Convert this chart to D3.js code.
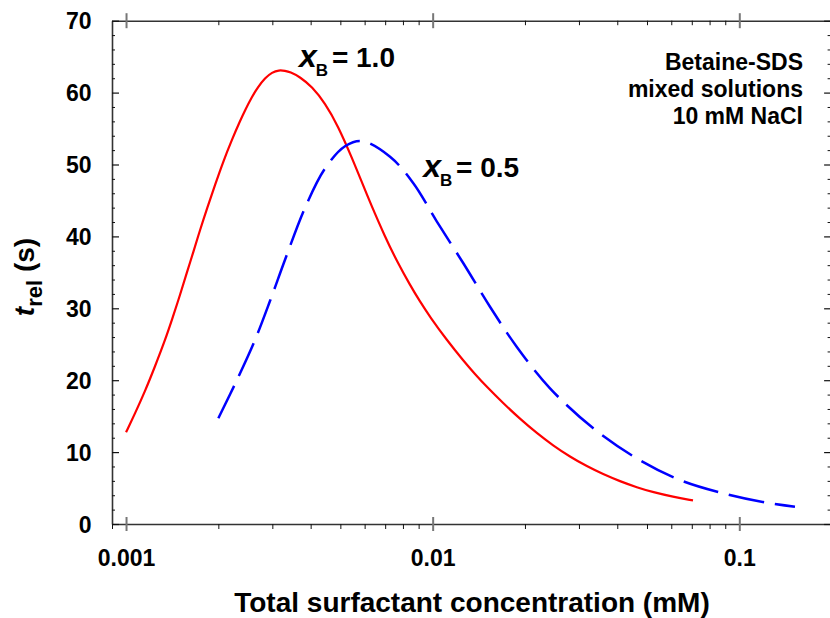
<!DOCTYPE html>
<html>
<head>
<meta charset="utf-8">
<script src="https://cdn.jsdelivr.net/npm/d3@7"></script>
<style>
  body { margin: 0; background: #fff; }
  svg { font-family: "Liberation Sans", Arial, sans-serif; font-weight: bold; }
</style>
</head>
<body>
<div id="chart"></div>
<script>
// x_B = 1.0 (solid red)
const concB10 = [0.001, 0.00107, 0.001153, 0.001243, 0.00134, 0.001413, 0.0015, 0.001581, 0.001654,
  0.001743, 0.001837, 0.001952, 0.002072, 0.002216, 0.002354, 0.002445, 0.002576, 0.002694, 0.00284,
  0.002993, 0.003155, 0.0033, 0.003426, 0.003693, 0.004043, 0.004456, 0.004913, 0.005458, 0.00584,
  0.006248, 0.006993, 0.007652, 0.008437, 0.009095, 0.009803, 0.01114, 0.01256, 0.01374, 0.01504,
  0.01696, 0.01927, 0.02189, 0.02469, 0.02805, 0.03187, 0.03594, 0.04083, 0.04639, 0.05231,
  0.06077, 0.07063];
const trelB10 = [12.75, 15.38, 18.44, 21.91, 25.54, 28.44, 31.85, 35.05, 37.69,
  40.89, 43.88, 47.19, 50.35, 53.48, 56.05, 57.55, 59.43, 60.78, 62.03,
  62.82, 63.14, 63.03, 62.88, 62.18, 60.81, 58.54, 55.37, 50.9, 47.82,
  44.74, 39.94, 36.52, 33.23, 30.92, 28.8, 25.54, 22.78, 20.85, 19.04,
  16.82, 14.62, 12.61, 10.92, 9.35, 8.01, 6.93, 5.94, 5.09, 4.42,
  3.78, 3.28];

// x_B = 0.5 (dashed blue)
const concB05 = [0.002, 0.002332, 0.002642, 0.002956, 0.003307, 0.003844, 0.004466, 0.005191, 0.005869,
  0.007261, 0.008649, 0.01031, 0.01259, 0.01538, 0.01879, 0.02414, 0.03341, 0.04629, 0.06406,
  0.08866, 0.1229, 0.1519];
const trelB05 = [14.7, 20.58, 25.73, 31.15, 36.86, 44.08, 49.51, 52.57, 53.27,
  51.08, 47.39, 42.09, 36.26, 30.22, 24.66, 18.87, 13.31, 9.14, 6.12,
  4.27, 2.96, 2.41];

const xMajor = [0.001, 0.01, 0.1];
const xLabels = ["0.001", "0.01", "0.1"];
const yMajor = [0, 10, 20, 30, 40, 50, 60, 70];

(function chart() {
  const width = 830, height = 618;
  const left = 112, right = 831.6, top = 20.7, bottom = 524;

  const svg = d3.select("#chart").append("svg")
    .attr("width", width).attr("height", height);

  const x = d3.scaleLog([0.0009, 0.2], [left, right]);
  const y = d3.scaleLinear([0, 70], [bottom, top]);

  const xMinor = x.ticks().filter(v => !xMajor.some(m => Math.abs(m - v) / m < 1e-6));
  const yMinor = d3.range(0, 71, 2).filter(v => v % 10 !== 0);

  const styleMinor = g => g.selectAll(".tick line").attr("stroke", "#111").attr("stroke-width", 1);
  const styleMajor = g => g.selectAll(".tick line").attr("stroke", "#777").attr("stroke-width", 2);

  // bottom axis
  svg.append("g").attr("transform", `translate(0,${bottom})`)
    .call(d3.axisBottom(x).tickValues(xMinor).tickSize(5).tickSizeOuter(0).tickFormat(""))
    .call(styleMinor)
    .call(g => g.select(".domain").attr("stroke", "#333").attr("stroke-width", 1.6));
  svg.append("g").attr("transform", `translate(0,${bottom})`)
    .call(d3.axisBottom(x).tickValues(xMajor).tickSize(7).tickPadding(19)
      .tickFormat((d, i) => xLabels[i]))
    .call(g => g.select(".domain").remove())
    .call(g => g.selectAll(".tick line").attr("y1", -7))
    .call(styleMajor)
    .call(g => g.selectAll("text").attr("fill", "#000").attr("font-size", 23).attr("font-family", null));

  // top axis
  svg.append("g").attr("transform", `translate(0,${top})`)
    .call(d3.axisTop(x).tickValues(xMinor).tickSize(-4.5).tickSizeOuter(0).tickFormat(""))
    .call(styleMinor)
    .call(g => g.select(".domain").attr("stroke", "#333").attr("stroke-width", 1.6));
  svg.append("g").attr("transform", `translate(0,${top})`)
    .call(d3.axisTop(x).tickValues(xMajor).tickSize(7.5).tickFormat(""))
    .call(g => g.select(".domain").remove())
    .call(g => g.selectAll(".tick line").attr("y1", 7.5))
    .call(styleMajor);

  // left axis
  svg.append("g").attr("transform", `translate(${left},0)`)
    .call(d3.axisLeft(y).tickValues(yMinor).tickSize(4).tickSizeOuter(0).tickFormat(""))
    .call(g => g.selectAll(".tick line").attr("x2", 3))
    .call(styleMinor)
    .call(g => g.select(".domain").attr("stroke", "#333").attr("stroke-width", 1.6));
  svg.append("g").attr("transform", `translate(${left},0)`)
    .call(d3.axisLeft(y).tickValues(yMajor).tickSize(7.5).tickPadding(13))
    .call(g => g.select(".domain").remove())
    .call(g => g.selectAll(".tick line").attr("x2", 7).attr("stroke", "#111").attr("stroke-width", 1.2))
    .call(g => g.selectAll("text").attr("fill", "#000").attr("font-size", 23)
      .attr("font-family", null).attr("dy", "0.36em"));

  // right axis
  svg.append("g").attr("transform", `translate(${right},0)`)
    .call(d3.axisRight(y).tickValues(yMinor).tickSize(-4).tickSizeOuter(0).tickFormat(""))
    .call(styleMinor)
    .call(g => g.select(".domain").attr("stroke", "#333").attr("stroke-width", 1.6));
  svg.append("g").attr("transform", `translate(${right},0)`)
    .call(d3.axisRight(y).tickValues(yMajor).tickSize(-7.5).tickFormat(""))
    .call(g => g.select(".domain").remove())
    .call(g => g.selectAll(".tick line").attr("stroke", "#111").attr("stroke-width", 1.2));

  // curves
  const line = d3.line()
    .x(d => x(d[0]))
    .y(d => y(d[1]));

  svg.append("path")
    .datum(d3.zip(concB10, trelB10))
    .attr("fill", "none")
    .attr("stroke", "#ff0000")
    .attr("stroke-width", 2.2)
    .attr("d", line.curve(d3.curveBasis));

  svg.append("path")
    .datum(d3.zip(concB05, trelB05))
    .attr("fill", "none")
    .attr("stroke", "#0000ff")
    .attr("stroke-width", 2.5)
    .attr("stroke-dasharray", "36,11")
    .attr("d", line.curve(d3.curveCatmullRom.alpha(0.5)));

  // curve labels
  const curveLabel = (cx, cy, val) => {
    const t = svg.append("text").attr("x", x(cx)).attr("y", y(cy)).attr("fill", "#000");
    t.append("tspan").attr("font-size", 32).attr("font-style", "italic").text("x");
    t.append("tspan").attr("font-size", 17).attr("dx", -1).attr("dy", 9).text("B");
    t.append("tspan").attr("font-size", 28).attr("dx", -4).attr("dy", -9).text(" = " + val);
  };
  curveLabel(0.003667, 63.6, "1.0");
  curveLabel(0.009313, 48.3, "0.5");

  // conditions
  const note = ["Betaine-SDS", "mixed solutions", "10 mM NaCl"];
  svg.append("g").selectAll("text")
    .data(note)
    .join("text")
    .attr("x", right - 28.6)
    .attr("y", (d, i) => 69.7 + i * 27.2)
    .attr("text-anchor", "end")
    .attr("font-size", 23)
    .text(d => d);

  // axis titles
  svg.append("text")
    .attr("x", (left + 830) / 2 + 1)
    .attr("y", 612)
    .attr("text-anchor", "middle")
    .attr("font-size", 28)
    .text("Total surfactant concentration (mM)");

  const yt = svg.append("text")
    .attr("transform", `translate(34,277) rotate(-90)`)
    .attr("text-anchor", "middle");
  yt.append("tspan").attr("font-size", 28).attr("font-style", "italic").text("t");
  yt.append("tspan").attr("font-size", 22).attr("dy", 8).text("rel");
  yt.append("tspan").attr("font-size", 28).attr("dy", -8).text(" (s)");
})();
</script>
</body>
</html>
